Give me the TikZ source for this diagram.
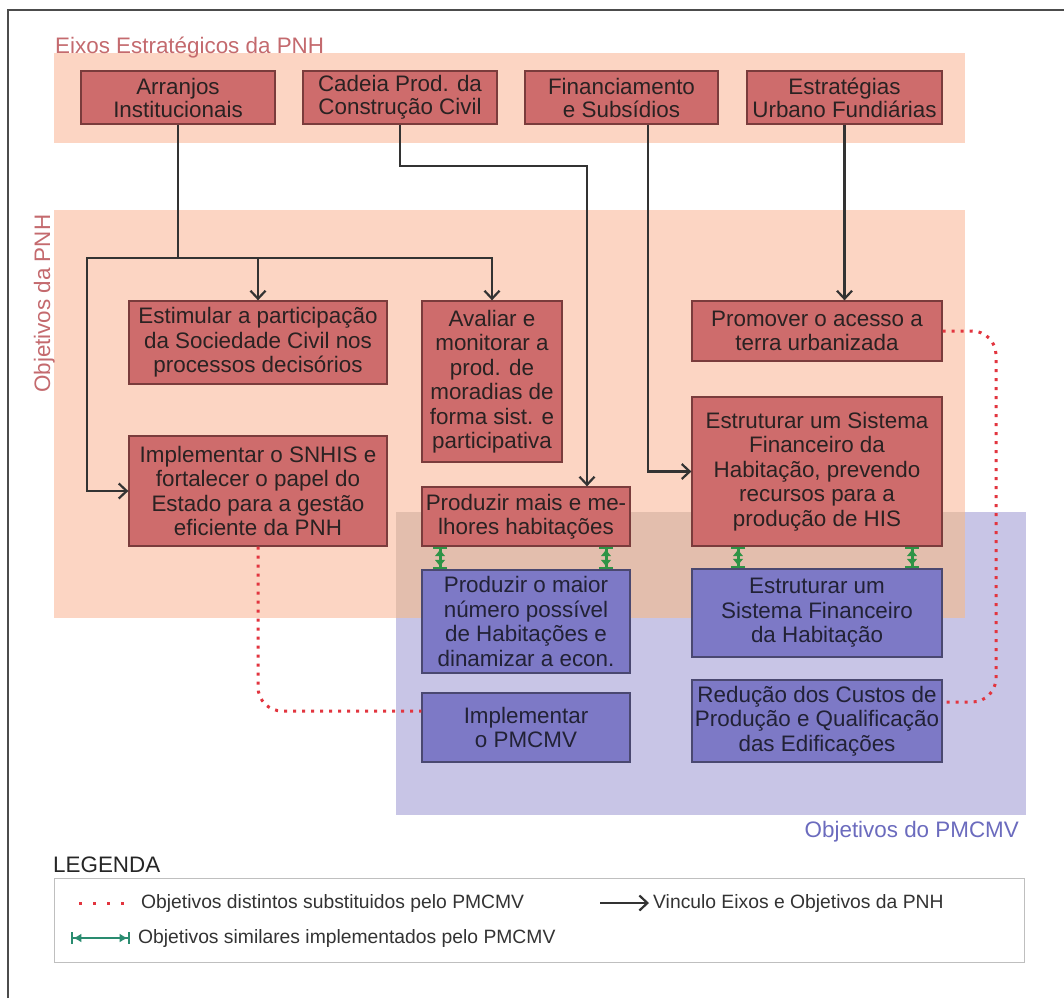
\documentclass[tikz,border=0pt]{standalone}
\usepackage{fontspec}
\setmainfont{Liberation Sans}
\usetikzlibrary{arrows.meta,calc}
\definecolor{redfill}{HTML}{CE6C6C}
\definecolor{redborder}{HTML}{7A3C3C}
\definecolor{bluefill}{HTML}{7D79C6}
\definecolor{blueborder}{HTML}{4A4870}
\definecolor{pnhband}{HTML}{FCD5C3}
\definecolor{pmcmvband}{HTML}{C8C5E6}
\definecolor{overlapband}{HTML}{E3BEAD}
\definecolor{titlered}{HTML}{C46A6E}
\definecolor{titleblue}{HTML}{6B6BBE}
\definecolor{simgreen}{HTML}{2E9446}
\definecolor{leggreen}{HTML}{2A8C70}
\definecolor{distred}{HTML}{E2353F}
\definecolor{connc}{HTML}{333333}
\definecolor{boxtext}{HTML}{2A2222}
\definecolor{bluetext}{HTML}{222236}
\begin{document}
\begin{tikzpicture}[x=1pt,y=-1pt,
  boxbase/.style={line width=1.3pt, inner sep=0pt, align=center,
    font=\fontsize{22.4}{24.5}\selectfont},
  redbox/.style={boxbase, draw=redborder, fill=redfill, text=boxtext},
  bluebox/.style={boxbase, draw=blueborder, fill=bluefill, text=bluetext},
  topbox/.style={redbox, font=\fontsize{22.4}{23}\selectfont, minimum height=53pt},
  conn/.style={draw=connc, line width=2.4pt,
    -{Straight Barb[length=8pt,width=15pt,line width=2.2pt]}},
  sim/.style={draw=simgreen, line width=3pt,
    {Bar[width=14pt,line width=2.4pt]Latex[length=7pt,width=11pt]}-{Latex[length=7pt,width=11pt]Bar[width=14pt,line width=2.4pt]}},
  simleg/.style={draw=leggreen, line width=2.2pt,
    {Bar[width=12pt,line width=2.4pt]Latex[length=8pt,width=9pt]}-{Latex[length=8pt,width=9pt]Bar[width=12pt,line width=2.4pt]}},
  dist/.style={draw=distred, line width=3pt, dash pattern=on 3pt off 6pt},
  bandtitle/.style={font=\fontsize{22.4}{24}\selectfont, inner sep=0pt},
  legtext/.style={font=\fontsize{19.3}{21}\selectfont, text=connc, inner sep=0pt, anchor=west}
]
\useasboundingbox (0,0) rectangle (1064,998);
\fill[white] (0,0) rectangle (1064,998);
\draw[gray!60!black, line width=1.5pt] (8,998) -- (8,10) -- (1064,10);

% bands
\fill[pnhband] (54,53) rectangle (965,143);
\fill[pnhband] (54,210) rectangle (965,618);
\fill[pmcmvband] (396,512) rectangle (1026,815);
\fill[overlapband] (396,512) rectangle (965,618);

% band titles
\node[bandtitle, text=titlered, anchor=base west] (t1) at (55,53) {Eixos Estratégicos da PNH};
\node[bandtitle, text=titlered, rotate=90, anchor=base west] (t2) at (50,393) {Objetivos da PNH};
\node[bandtitle, text=titleblue, anchor=base east] (t3) at (1019,837) {Objetivos do PMCMV};

% top boxes
\node[topbox, minimum width=194pt] (arr) at (178,97.5) {Arranjos\\Institucionais};
\node[topbox, minimum width=194pt] (cad) at (400,97.5) {Cadeia Prod. da\\Construção Civil};
\node[topbox, minimum width=193pt] (fin) at (621.5,97.5) {Financiamento\\e Subsídios};
\node[topbox, minimum width=195pt] (estr) at (844.5,97.5) {Estratégias\\Urbano Fundiárias};

% PNH objectives
\node[redbox, minimum width=258pt, minimum height=83pt] (est) at (258,342.5) {Estimular a participação\\da Sociedade Civil nos\\processos decisórios};
\node[redbox, minimum width=140pt, minimum height=161pt] (ava) at (492,381.5) {Avaliar e\\monitorar a\\prod. de\\moradias de\\forma sist. e\\participativa};
\node[redbox, minimum width=258pt, minimum height=110pt] (impl) at (258,491) {Implementar o SNHIS e\\fortalecer o papel do\\Estado para a gestão\\eficiente da PNH};
\node[redbox, minimum width=208pt, minimum height=59pt] (pmais) at (526,516.5) {Produzir mais e me-\\lhores habitações};
\node[redbox, minimum width=250pt, minimum height=60pt] (prom) at (817,331) {Promover o acesso a\\terra urbanizada};
\node[redbox, minimum width=250pt, minimum height=149pt] (sfh) at (817,471.5) {Estruturar um Sistema\\Financeiro da\\Habitação, prevendo\\recursos para a\\produção de HIS};

% PMCMV objectives
\node[bluebox, minimum width=208pt, minimum height=103pt] (pmaior) at (526,621.5) {Produzir o maior\\número possível\\de Habitações e\\dinamizar a econ.};
\node[bluebox, minimum width=250pt, minimum height=88pt] (sfhb) at (817,613) {Estruturar um\\Sistema Financeiro\\da Habitação};
\node[bluebox, minimum width=208pt, minimum height=69pt] (pmcmv) at (526,727.5) {Implementar\\o PMCMV};
\node[bluebox, minimum width=250pt, minimum height=82pt] (red) at (817,721) {Redução dos Custos de\\Produção e Qualificação\\das Edificações};

% connectors (black)
\coordinate (jA) at (178,258);
\coordinate (jL) at (87,258);
\draw[conn, -] (arr.south) -- (jA);
\draw[conn] (jA) -| (est.north);
\draw[conn] (jA) -| (ava.north);
\draw[conn] (jA) -- (jL) |- (impl.west);
\coordinate (cB) at (587,166);
\draw[conn] (cad.south) |- (cB) -- (cB |- pmais.north);
\coordinate (fx) at (648,0);
\draw[conn] (fin.south -| fx) |- (sfh.west);
\draw[conn] (estr.south) -- (estr.south |- prom.north);

% similar objectives (green)
\coordinate (g1) at (440,0);
\coordinate (g2) at (606,0);
\coordinate (g3) at (738,0);
\coordinate (g4) at (912,0);
\draw[sim] (pmais.south -| g1) -- (pmaior.north -| g1);
\draw[sim] (pmais.south -| g2) -- (pmaior.north -| g2);
\draw[sim] (sfh.south -| g3) -- (sfhb.north -| g3);
\draw[sim] (sfh.south -| g4) -- (sfhb.north -| g4);

% distinct objectives (red dotted)
\coordinate (dy) at (0,711);
\draw[dist, rounded corners=24pt] (impl.south) |- (pmcmv.west |- dy);
\coordinate (dc) at (996,702);
\draw[dist, rounded corners=24pt] (prom.east) -| (dc) -- (red.east |- dc);

% legend
\node[font=\fontsize{22.4}{24}\selectfont, text=black!85, inner sep=0pt, anchor=base west] (lg) at (53,872) {LEGENDA};
\draw[black!25, line width=1pt] (54,878) rectangle (1024,962);
\node[legtext] (l1) at (141,903) {Objetivos distintos substituidos pelo PMCMV};
\coordinate (l1a) at (79,903);
\draw[dist, dash pattern=on 3pt off 11pt] (l1a) -- ([xshift=-9pt]l1.west);
\node[legtext] (l2) at (653,903) {Vinculo Eixos e Objetivos da PNH};
\coordinate (l2a) at (600,903);
\draw[conn] (l2a) -- ([xshift=-4pt]l2.west);
\node[legtext] (l3) at (138,938) {Objetivos similares implementados pelo PMCMV};
\coordinate (l3a) at (71,938);
\draw[simleg] (l3a) -- ([xshift=-8pt]l3.west);
\end{tikzpicture}
\end{document}
